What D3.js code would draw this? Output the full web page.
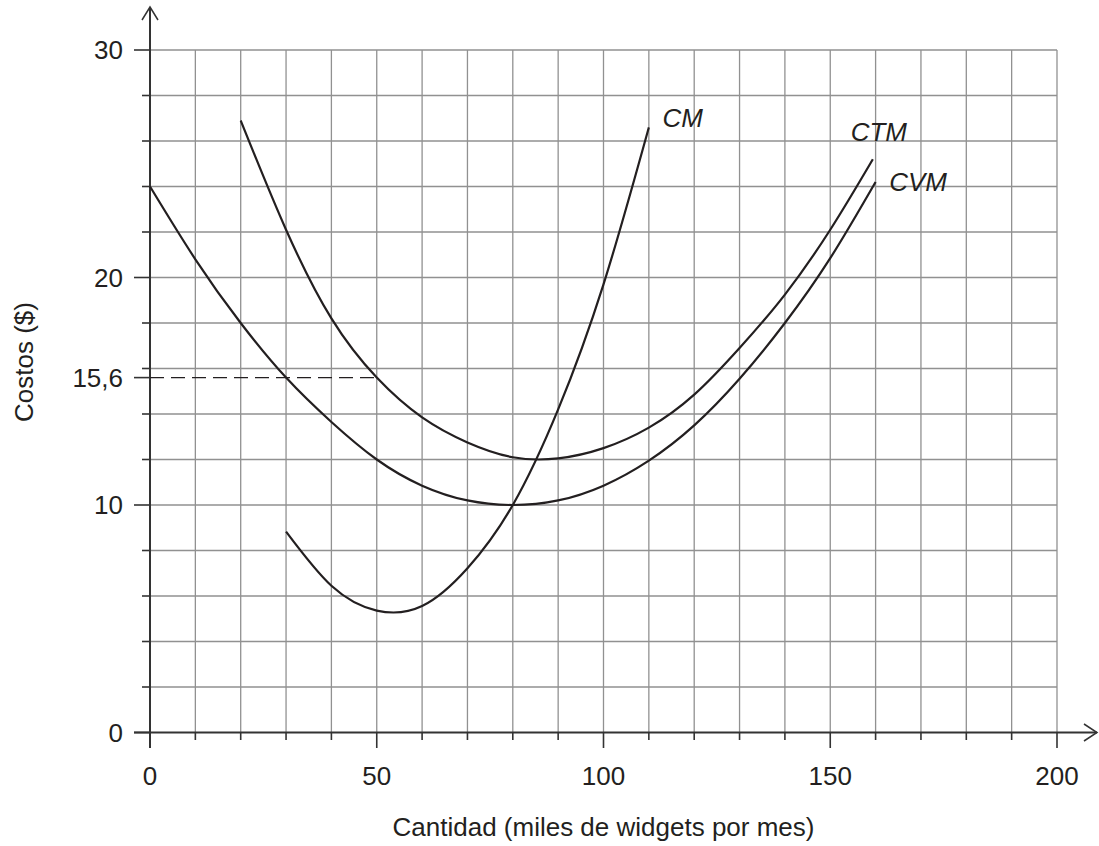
<!DOCTYPE html>
<html>
<head>
<meta charset="utf-8">
<script src="https://cdn.jsdelivr.net/npm/d3@7"></script>
<style>
  body { margin: 0; background: #fff; }
  text { font-family: "Liberation Sans", Arial, sans-serif; fill: #231f20; }
</style>
</head>
<body>
<div id="chart"></div>
<script>
// values
var cmX  = [30, 40, 50, 60, 70, 80, 90, 100, 110];
var cmY  = [8.83, 6.45, 5.36, 5.56, 7.22, 10.0, 14.2, 19.7, 26.6];
var ctmX = [20, 30, 40, 50, 60, 70, 80, 90, 100, 110, 120, 130, 140, 150, 159.4];
var ctmY = [26.9, 22.1, 18.2, 15.6, 13.85, 12.75, 12.1, 12.05, 12.5, 13.4, 14.85, 16.9, 19.25, 22.1, 25.2];
var cvmX = [0, 10, 20, 30, 40, 50, 60, 70, 80, 90, 100, 110, 120, 130, 140, 150, 160];
var cvmY = [24.0, 20.8, 18.0, 15.6, 13.65, 12.0, 10.85, 10.2, 10.0, 10.2, 10.85, 11.95, 13.5, 15.55, 18.0, 20.85, 24.2];

var xMajor = [0, 50, 100, 150, 200];
var yMajor = [0, 10, 15.6, 20, 30];
var yMajorLabels = ["0", "10", "15,6", "20", "30"];
var curveNames = ["CM", "CTM", "CVM"];
var labelX = [113, 154.5, 163];
var labelY = [26.6, 26.0, 23.8];
var markX = 50, markY = 15.6; // dashed guide

var width = 1099, height = 846;
var ink = "#231f20";

var x = d3.scaleLinear().domain([0, 200]).range([150, 1057]);
var y = d3.scaleLinear().domain([0, 30]).range([732.5, 50]);

var svg = d3.select("#chart").append("svg")
  .attr("width", width)
  .attr("height", height);

// grid
var grid = svg.append("g").attr("stroke", "#919191").attr("stroke-width", 1.3);
d3.range(10, 201, 10).forEach(function(v) {
  grid.append("line")
    .attr("x1", x(v)).attr("x2", x(v))
    .attr("y1", y(0)).attr("y2", y(30));
});
d3.range(2, 31, 2).forEach(function(v) {
  grid.append("line")
    .attr("x1", x(0)).attr("x2", x(200))
    .attr("y1", y(v)).attr("y2", y(v));
});

// axes
var axes = svg.append("g").attr("stroke", "#333").attr("stroke-width", 2).attr("fill", "none");
axes.append("line").attr("x1", 134).attr("x2", 1097).attr("y1", y(0)).attr("y2", y(0));
axes.append("line").attr("x1", x(0)).attr("x2", x(0)).attr("y1", 748).attr("y2", 7);
axes.append("path").attr("d", "M 142,20 L 150,7 L 158,20").attr("stroke-width", 1.5);
axes.append("path").attr("d", "M 1084,724 L 1097," + y(0) + " L 1084,741").attr("stroke-width", 1.5);

d3.range(0, 201, 10).forEach(function(v) {
  var major = xMajor.indexOf(v) >= 0;
  axes.append("line")
    .attr("x1", x(v)).attr("x2", x(v))
    .attr("y1", y(0)).attr("y2", major ? 748 : 740)
    .attr("stroke-width", 1.6);
});
d3.range(0, 31, 2).forEach(function(v) {
  axes.append("line")
    .attr("x1", x(0)).attr("x2", yMajor.indexOf(v) >= 0 ? 134 : 142)
    .attr("y1", y(v)).attr("y2", y(v))
    .attr("stroke-width", 1.6);
});
axes.append("line").attr("x1", x(0)).attr("x2", 134)
  .attr("y1", y(markY)).attr("y2", y(markY)).attr("stroke-width", 1.6);

// tick labels
svg.selectAll(".xl").data(xMajor).enter().append("text")
  .attr("x", function(d) { return x(d); })
  .attr("y", 785)
  .attr("text-anchor", "middle")
  .attr("font-size", 26)
  .text(function(d) { return d; });

svg.selectAll(".yl").data(yMajor).enter().append("text")
  .attr("x", 123)
  .attr("y", function(d) { return y(d); })
  .attr("dy", "0.36em")
  .attr("text-anchor", "end")
  .attr("font-size", 26)
  .text(function(d, i) { return yMajorLabels[i]; });

// axis titles
svg.append("text")
  .attr("x", x(100))
  .attr("y", 836)
  .attr("text-anchor", "middle")
  .attr("font-size", 26)
  .text("Cantidad (miles de widgets por mes)");

svg.append("text")
  .attr("transform", "translate(33,362) rotate(-90)")
  .attr("text-anchor", "middle")
  .attr("font-size", 26)
  .text("Costos ($)");

// dashed guide at 15,6
svg.append("line")
  .attr("x1", x(0)).attr("x2", x(markX))
  .attr("y1", y(markY)).attr("y2", y(markY))
  .attr("stroke", ink)
  .attr("stroke-width", 1.4)
  .attr("stroke-dasharray", "14,7");

// curves
var line = d3.line()
  .x(function(d) { return x(d[0]); })
  .y(function(d) { return y(d[1]); })
  .curve(d3.curveNatural);

[[cmX, cmY], [ctmX, ctmY], [cvmX, cvmY]].forEach(function(s) {
  svg.append("path")
    .datum(d3.zip(s[0], s[1]))
    .attr("d", line)
    .attr("fill", "none")
    .attr("stroke", ink)
    .attr("stroke-width", 2.2);
});

svg.selectAll(".cl").data(curveNames).enter().append("text")
  .attr("x", function(d, i) { return x(labelX[i]); })
  .attr("y", function(d, i) { return y(labelY[i]); })
  .attr("font-size", 26)
  .attr("font-style", "italic")
  .text(function(d) { return d; });
</script>
</body>
</html>
